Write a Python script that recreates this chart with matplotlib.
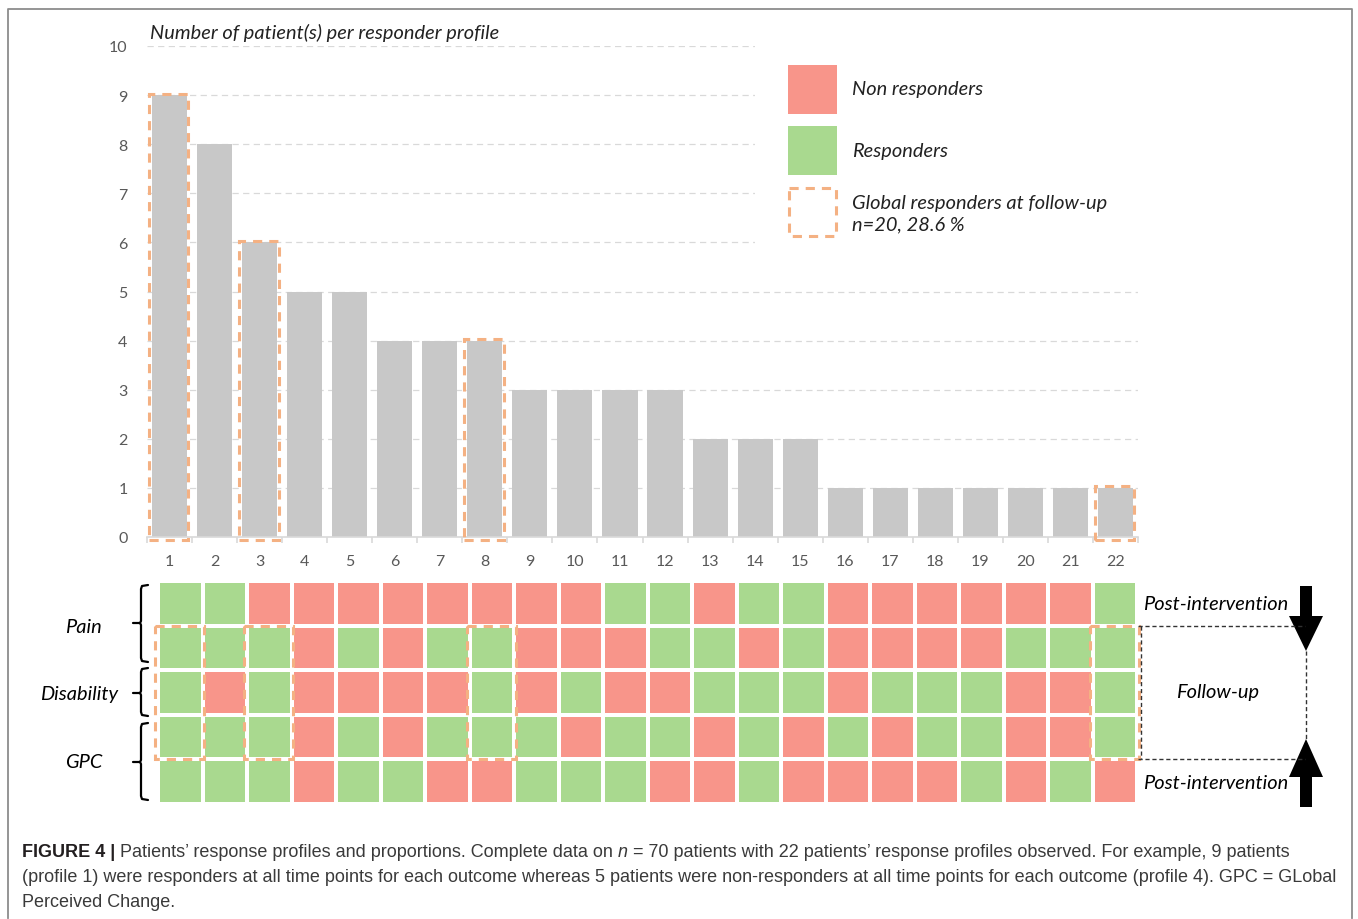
import matplotlib
matplotlib.use('Agg')
import matplotlib.pyplot as plt
import numpy as np
from matplotlib.patches import Rectangle, FancyArrow
from matplotlib.colors import ListedColormap
from matplotlib import font_manager

# ---------------- data ----------------
profiles = list(range(1, 23))
patients = [9, 8, 6, 5, 5, 4, 4, 4, 3, 3, 3, 3, 2, 2, 2, 1, 1, 1, 1, 1, 1, 1]
global_responders = [1, 3, 8, 22]

# 1 = responder, 0 = non responder (rows top to bottom)
pain_post = [1, 1, 0, 0, 0, 0, 0, 0, 0, 0, 1, 1, 0, 1, 1, 0, 0, 0, 0, 0, 0, 1]
pain_fu   = [1, 1, 1, 0, 1, 0, 1, 1, 0, 0, 0, 1, 1, 0, 1, 0, 0, 0, 0, 1, 1, 1]
disab_fu  = [1, 0, 1, 0, 0, 0, 0, 1, 0, 1, 0, 0, 1, 1, 1, 0, 1, 1, 1, 0, 0, 1]
gpc_fu    = [1, 1, 1, 0, 1, 0, 1, 1, 1, 0, 1, 1, 0, 1, 0, 1, 0, 1, 1, 0, 0, 1]
gpc_post  = [1, 1, 1, 0, 1, 1, 0, 0, 1, 1, 1, 0, 0, 1, 0, 0, 0, 0, 1, 0, 1, 0]

y_ticks = list(range(0, 11))
title = "Number of patient(s) per responder profile"
legend_labels = ["Non responders", "Responders", "Global responders at follow-up\nn=20, 28.6 %"]
outcome_labels = ["Pain", "Disability", "GPC"]

RED = '#F8958A'
GREEN = '#A9D98F'
GRAY = '#C8C8C8'
ORANGE = '#F4B183'
TXT = '#595959'

names = {f.name for f in font_manager.fontManager.ttflist}
CH = 'Lato' if 'Lato' in names else 'DejaVu Sans'
CAP = 'Liberation Sans Narrow' if 'Liberation Sans Narrow' in names else 'Liberation Sans'
FS = 14.4

W, H = 1358, 920
fig = plt.figure(figsize=(W / 100, H / 100), dpi=100)


def rect(x0, y0, x1, y1):
    return [x0 / W, 1 - y1 / H, (x1 - x0) / W, (y1 - y0) / H]


# ---------------- bar chart ----------------
ax = fig.add_axes(rect(147, 47, 1138, 538))
ax.bar(profiles, patients, width=0.78, color=GRAY, zorder=2)
ax.set_xlim(0.5, 22.5)
ax.set_ylim(0, 10)
ax.set_yticks(y_ticks)
ax.set_xticks(profiles)
ax.set_xticks(np.arange(0.5, 23, 1), minor=True)
ax.yaxis.grid(True, color='#D9D9D9', lw=0.9, linestyle=(0, (5, 3.5)))
ax.set_axisbelow(True)
for s in ['top', 'right', 'left']:
    ax.spines[s].set_visible(False)
ax.spines['bottom'].set_color('#D9D9D9')
ax.spines['bottom'].set_linewidth(1.2)
ax.tick_params(axis='y', length=0, pad=14, labelsize=11.5, labelcolor=TXT)
ax.tick_params(axis='x', which='major', length=0, pad=12, labelsize=11.5, labelcolor=TXT)
ax.tick_params(axis='x', which='minor', length=4, color='#D9D9D9', width=1.2)
for t in ax.get_xticklabels() + ax.get_yticklabels():
    t.set_family(CH)
for p in global_responders:
    ax.add_patch(Rectangle((p - 0.46, -0.06), 0.88, patients[p - 1] + 0.09, fill=False,
                           ec=ORANGE, lw=2.2, ls=(0, (3, 2.3)), clip_on=False, zorder=3))

# ---------------- response grid ----------------
g = fig.add_axes(rect(158, 582, 1137, 805))
data = np.array([pain_post, pain_fu, disab_fu, gpc_fu, gpc_post])
g.pcolormesh(np.arange(23), np.arange(6), data, cmap=ListedColormap([RED, GREEN]),
             vmin=0, vmax=1, edgecolors='white', linewidth=1.5)
g.set_xlim(0, 22)
g.set_ylim(5, 0)
g.axis('off')
for p in global_responders:
    g.add_patch(Rectangle((p - 1 - 0.06, 1), 1.1, 3, fill=False, ec=ORANGE, lw=2.2,
                          ls=(0, (3, 2.3)), clip_on=False, zorder=3))

# ---------------- overlay ----------------
ov = fig.add_axes([0, 0, 1, 1])
ov.set_xlim(0, W)
ov.set_ylim(H, 0)
ov.axis('off')

# frame
ov.plot([8, 8, 1352, 1352], [919, 10, 10, 919], color='#8C8C8C', lw=1.3)

# title
ov.text(150, 33, title, fontsize=FS, style='italic', family=CH, color='#222222',
        ha='left', va='center')

# legend
ov.add_patch(Rectangle((755, 40), 395, 212, fc='white', ec='none', zorder=1))
ov.add_patch(Rectangle((788, 66), 49, 49, fc=RED, ec='none', zorder=2))
ov.add_patch(Rectangle((788, 127), 49, 49, fc=GREEN, ec='none', zorder=2))
ov.add_patch(Rectangle((789, 189), 47, 48, fill=False, ec=ORANGE, lw=2.2,
                       ls=(0, (3, 2.3)), zorder=2))
ov.text(852, 89, legend_labels[0], fontsize=FS, style='italic', family=CH,
        color='#222222', va='center', zorder=3)
ov.text(852, 151, legend_labels[1], fontsize=FS, style='italic', family=CH,
        color='#222222', va='center', zorder=3)
ov.text(852, 214, legend_labels[2], fontsize=FS, style='italic', family=CH,
        color='#222222', va='center', linespacing=1.3, zorder=3)


# braces
def brace(x, y0, y1, ym):
    ov.plot([x + 7, x + 1, x, x, x - 1, x - 8], [y0, y0 + 1, y0 + 4, ym - 2, ym, ym],
            color='black', lw=1.6, solid_capstyle='round')
    ov.plot([x - 1, x, x, x + 1, x + 7], [ym, ym + 2, y1 - 4, y1 - 1, y1],
            color='black', lw=1.6, solid_capstyle='round')


brace(141, 586, 663, 624)
brace(141, 669, 717, 694)
brace(141, 724, 801, 763)
ov.text(83, 628, outcome_labels[0], fontsize=FS, style='italic', family=CH, ha='center', va='center')
ov.text(79, 695, outcome_labels[1], fontsize=FS, style='italic', family=CH, ha='center', va='center')
ov.text(84, 763, outcome_labels[2], fontsize=FS, style='italic', family=CH, ha='center', va='center')

# right annotations
ov.text(1143, 605, "Post-intervention", fontsize=FS, style='italic', family=CH, ha='left', va='center')
ov.text(1218, 693, "Follow-up", fontsize=FS, style='italic', family=CH, ha='center', va='center')
ov.text(1143, 784, "Post-intervention", fontsize=FS, style='italic', family=CH, ha='left', va='center')
dk = dict(color='#333333', lw=1.0, ls=(0, (3, 2)))
ov.plot([1138, 1305], [627, 627], **dk)
ov.plot([1138, 1305], [760, 760], **dk)
ov.plot([1141, 1141], [627, 760], **dk)
ov.plot([1306, 1306], [652, 740], **dk)
ov.add_patch(FancyArrow(1306, 587, 0, 65, width=12, head_width=34, head_length=35,
                        length_includes_head=True, fc='black', ec='none'))
ov.add_patch(FancyArrow(1306, 808, 0, -68, width=12, head_width=34, head_length=38,
                        length_includes_head=True, fc='black', ec='none'))

# ---------------- caption ----------------
lines = [
    [("FIGURE 4 | ", 'bold', 'normal'),
     ("Patients\u2019 response profiles and proportions. Complete data on ", 'normal', 'normal'),
     ("n", 'normal', 'italic'),
     (" = 70 patients with 22 patients\u2019 response profiles observed. For example, 9 patients", 'normal', 'normal')],
    [("(profile 1) were responders at all time points for each outcome whereas 5 patients were "
      "non-responders at all time points for each outcome (profile 4). GPC = GLobal", 'normal', 'normal')],
    [("Perceived Change.", 'normal', 'normal')],
]
ys = [853, 878, 903]
renderer = fig.canvas.get_renderer()
probe = ov.text(0, 0, lines[1][0][0], fontsize=12, family=CAP)
wpx = probe.get_window_extent(renderer).width
probe.remove()
cs = min(12 * 1318 / wpx, 13.5)
for line, y in zip(lines, ys):
    x = 22
    for txt, wt, st in line:
        col = '#231F20' if wt == 'bold' else '#3A3A3A'
        t = ov.text(x, y, txt, fontsize=cs, family=CAP, weight=wt, style=st,
                    color=col, ha='left', va='center')
        x += t.get_window_extent(renderer).width

fig.savefig('out.png', dpi=100)
